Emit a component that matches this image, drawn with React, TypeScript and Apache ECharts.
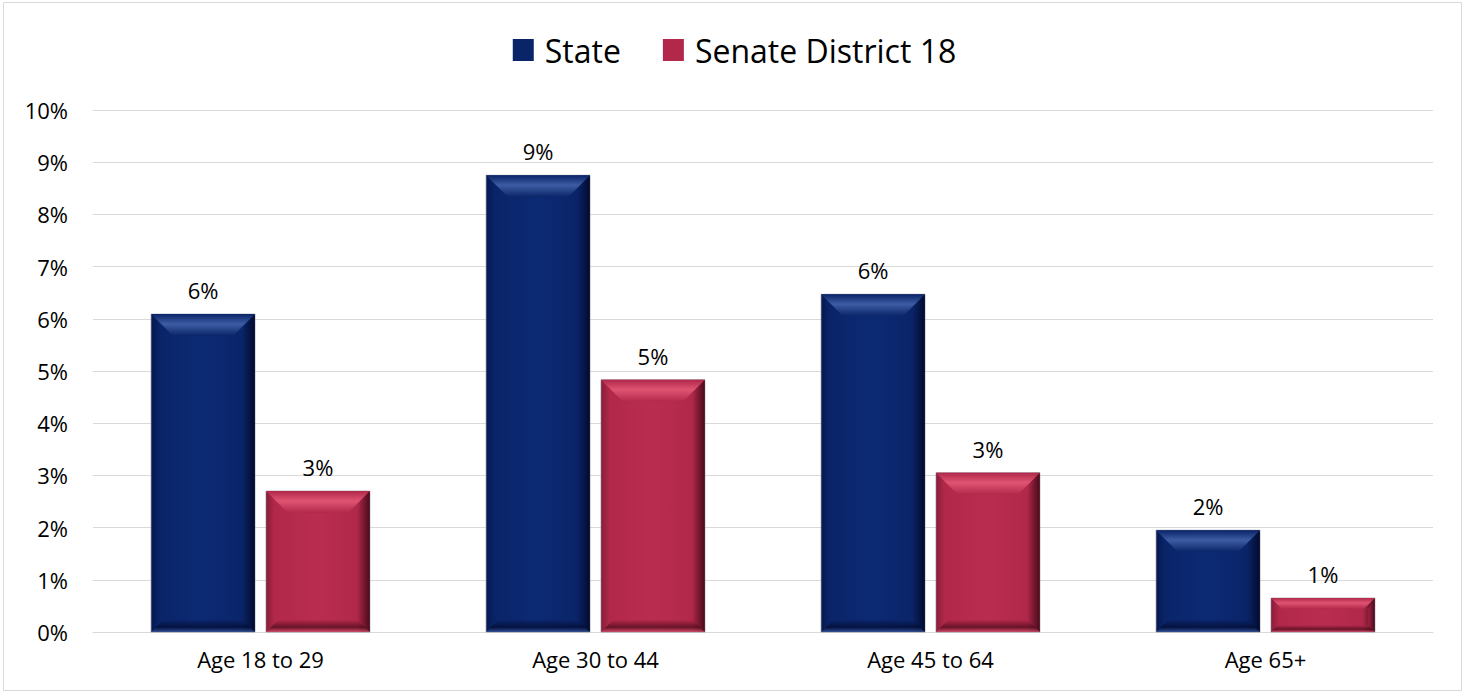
import React, { useEffect, useRef } from "react";
import * as echarts from "echarts";

const categories = ["Age 18 to 29", "Age 30 to 44", "Age 45 to 64", "Age 65+"];
const stateValues = [6.09, 8.75, 6.47, 1.95];
const districtValues = [2.7, 4.83, 3.05, 0.65];
const seriesNames = ["State", "Senate District 18"];
const yTicks = [0, 10, 1];

const palettes = [
  { body: "#0a2468", light: "#3d5ca3", dark: "#020a2e", mid: "#0c2a74", edge: "#05184f" },
  { body: "#b1284a", light: "#e05472", dark: "#480a1a", mid: "#b92d50", edge: "#8a1c37" },
];

const FONT = "'Open Sans', 'Noto Sans', sans-serif";

function makeRender(si: number) {
  return (params: any, api: any) => {
    const cat = api.value(0);
    const val = api.value(1);
    const base = api.coord([cat, 0]);
    const top = api.coord([cat, val]);
    const band = api.size([1, 0])[0];
    const bw = band * 0.31;
    const gap = band * 0.033;
    const x = base[0] + (si === 0 ? -(gap / 2 + bw) : gap / 2);
    const y = top[1];
    const h = base[1] - top[1];
    const p = palettes[si];
    const d = Math.min(22, h * 0.32);
    const db = Math.min(12, h * 0.2);
    return {
      type: "group",
      children: [
        {
          type: "rect",
          shape: { x, y, width: bw, height: h },
          style: {
            fill: new echarts.graphic.LinearGradient(0, 0, 1, 0, [
              { offset: 0, color: p.edge },
              { offset: 0.08, color: p.body },
              { offset: 0.5, color: p.mid },
              { offset: 0.88, color: p.body },
              { offset: 1, color: p.dark },
            ]),
            stroke: "rgba(120,120,140,0.6)",
            lineWidth: 1,
          },
        },
        {
          type: "polygon",
          shape: { points: [[x + bw, y], [x + bw, y + h], [x + bw - d * 0.6, y + h - db], [x + bw - d * 0.6, y + d]] },
          style: {
            fill: new echarts.graphic.LinearGradient(1, 0, 0, 0, [
              { offset: 0, color: p.dark },
              { offset: 1, color: p.body },
            ]),
            opacity: 0.7,
          },
        },
        {
          type: "polygon",
          shape: { points: [[x, y], [x + bw, y], [x + bw - d, y + d], [x + d, y + d]] },
          style: {
            fill: new echarts.graphic.LinearGradient(0, 0, 0, 1, [
              { offset: 0, color: p.body },
              { offset: 0.45, color: p.light },
              { offset: 1, color: p.body },
            ]),
          },
        },
        {
          type: "polygon",
          shape: { points: [[x, y + h], [x + bw, y + h], [x + bw - db, y + h - db], [x + db, y + h - db]] },
          style: {
            fill: new echarts.graphic.LinearGradient(0, 0, 0, 1, [
              { offset: 0, color: p.body },
              { offset: 0.6, color: p.dark },
              { offset: 1, color: p.light },
            ]),
            opacity: 0.7,
          },
        },
        {
          type: "text",
          style: {
            x: x + bw / 2,
            y: y - 24,
            text: Math.round(val) + "%",
            fill: "#000",
            font: `22px ${FONT}`,
            align: "center",
            verticalAlign: "middle",
          },
        },
      ],
    };
  };
}

export default function App() {
  const ref = useRef<HTMLDivElement>(null);
  useEffect(() => {
    document.body.style.margin = "0";
    const chart = echarts.init(ref.current!, null, { renderer: "svg" });
    const mkData = (vals: number[]) => vals.map((v, i) => [i, v]);
    chart.setOption({
      animation: false,
      backgroundColor: "#fff",
      graphic: [
        {
          type: "rect",
          shape: { x: 3.5, y: 2.5, width: 1458, height: 688 },
          style: { fill: "none", stroke: "#d9d9d9", lineWidth: 1 },
          silent: true,
        },
      ],
      legend: {
        top: 29,
        left: "center",
        itemWidth: 21,
        itemHeight: 22,
        itemGap: 42,
        icon: "rect",
        textStyle: { fontSize: 32, fontFamily: FONT, color: "#000", padding: [0, 0, 0, 6] },
        data: seriesNames.map((n, i) => ({
          name: n,
          itemStyle: { color: palettes[i].body },
        })),
      },
      grid: { left: 93, right: 36, top: 110, bottom: 62 },
      xAxis: {
        type: "category",
        data: categories,
        axisTick: { show: false },
        axisLine: { lineStyle: { color: "#d9d9d9" } },
        axisLabel: { fontSize: 22, fontFamily: FONT, color: "#000", margin: 16 },
      },
      yAxis: {
        type: "value",
        min: yTicks[0],
        max: yTicks[1],
        interval: yTicks[2],
        axisLabel: { formatter: "{value}%", fontSize: 22, fontFamily: FONT, color: "#000", margin: 25 },
        splitLine: { lineStyle: { color: "#d9d9d9", width: 1 } },
        axisLine: { show: false },
        axisTick: { show: false },
      },
      series: [
        {
          name: seriesNames[0],
          type: "custom",
          renderItem: makeRender(0),
          data: mkData(stateValues),
          itemStyle: { color: palettes[0].body },
          encode: { x: 0, y: 1 },
        },
        {
          name: seriesNames[1],
          type: "custom",
          renderItem: makeRender(1),
          data: mkData(districtValues),
          itemStyle: { color: palettes[1].body },
          encode: { x: 0, y: 1 },
        },
      ],
    });
    return () => chart.dispose();
  }, []);
  return <div ref={ref} style={{ width: 1469, height: 694 }} />;
}
